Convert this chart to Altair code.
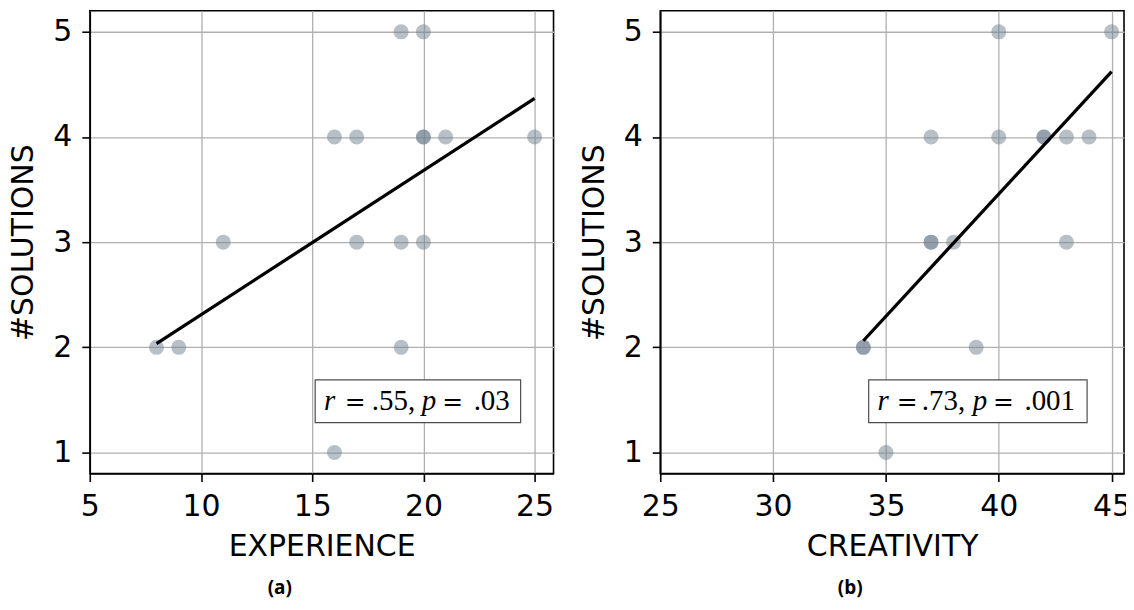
import altair as alt
import pandas as pd

# ---- data ----
exp_x = [8, 9, 11, 16, 17, 19, 20, 20, 20, 21, 25, 17, 19, 20, 19, 16]
exp_y = [2, 2, 3, 4, 4, 5, 5, 4, 4, 4, 4, 3, 3, 3, 2, 1]

cre_x = [45, 40, 37, 40, 42, 42, 43, 44, 37, 37, 38, 43, 34, 34, 39, 35]
cre_y = [5, 5, 4, 4, 4, 4, 4, 4, 3, 3, 3, 3, 2, 2, 2, 1]

exp_ticks = [5, 10, 15, 20, 25]
cre_ticks = [25, 30, 35, 40, 45]
y_ticks = [1, 2, 3, 4, 5]

ann_a = ["r", ".55,", "p", ".03"]
ann_b = ["r", ".73,", "p", ".001"]

AX_FONT = "DejaVu Sans"
W, H = 465, 464


def panel(xs, ys, xtitle, xdomain, xticks, sub, ann, box, offs):
    df = pd.DataFrame({"x": xs, "y": ys})
    xenc = alt.X("x:Q", scale=alt.Scale(domain=xdomain, nice=False, zero=False),
                 axis=alt.Axis(title=xtitle, values=xticks))
    yenc = alt.Y("y:Q", scale=alt.Scale(domain=[0.8, 5.2], nice=False, zero=False),
                 axis=alt.Axis(title="#SOLUTIONS", values=y_ticks))
    base = alt.Chart(df)
    pts = base.mark_circle(size=227, color="#708090", opacity=0.5).encode(x=xenc, y=yenc)
    reg = base.transform_regression("x", "y").mark_line(
        color="black", strokeWidth=3.3).encode(x=xenc, y=yenc)

    one = alt.Chart(pd.DataFrame({"k": [0]}))
    rect = one.mark_rect(fill="white", stroke="#4d4d4d", strokeWidth=1.2).encode(
        x=alt.value(box[0]), x2=alt.value(box[1]), y=alt.value(box[2]), y2=alt.value(box[3]))
    layers = [pts, reg, rect]
    pieces = [(ann[0], "Liberation Serif", "italic", 29, offs[0]),
              ("=", "DejaVu Serif", "normal", 25, offs[1]),
              (ann[1], "Liberation Serif", "normal", 29, offs[2]),
              (ann[2], "Liberation Serif", "italic", 29, offs[3]),
              ("=", "DejaVu Serif", "normal", 25, offs[4]),
              (ann[3], "Liberation Serif", "normal", 29, offs[5])]
    for t, fnt, st, fs, cx in pieces:
        layers.append(one.mark_text(
            text=t, font=fnt, fontSize=fs, fontStyle=st,
            align="center", baseline="alphabetic", color="black").encode(
            x=alt.value(box[0] + cx), y=alt.value(box[3] - 13)))
    return alt.layer(*layers).properties(
        width=W, height=H,
        title=alt.TitleParams(sub, orient="bottom", anchor="middle", dx=-42,
                              font="Open Sans", fontWeight="bold", fontSize=19,
                              offset=18, color="black"))


left = panel(exp_x, exp_y, "EXPERIENCE", [5, 25.85], exp_ticks, "(a)", ann_a,
             (226, 432, 370, 413), (14.5, 40, 78.5, 114, 138, 177))
right = panel(cre_x, cre_y, "CREATIVITY", [25, 45.55], cre_ticks, "(b)", ann_b,
              (209, 428, 370, 413), (14.5, 38.5, 75, 111.5, 135, 181.5))

chart = alt.hconcat(left, right, spacing=24).properties(
    padding={"left": 0, "top": 1, "right": -6, "bottom": 0}
).configure_view(
    stroke="black", strokeWidth=1.6
).configure_axis(
    labelFont=AX_FONT, labelFontSize=30, labelColor="black",
    titleFont=AX_FONT, titleFontSize=30, titleFontWeight="normal", titleColor="black",
    domainColor="black", domainWidth=1.6, tickColor="black", tickWidth=1.6, tickSize=8,
    gridColor="#b0b0b0", gridWidth=1.3, labelPadding=10, titlePadding=10,
    labelOverlap=False, labelFlush=False
).configure_axisY(titlePadding=14)

chart.save("out.html", embed_options={"renderer": "svg", "actions": False})
